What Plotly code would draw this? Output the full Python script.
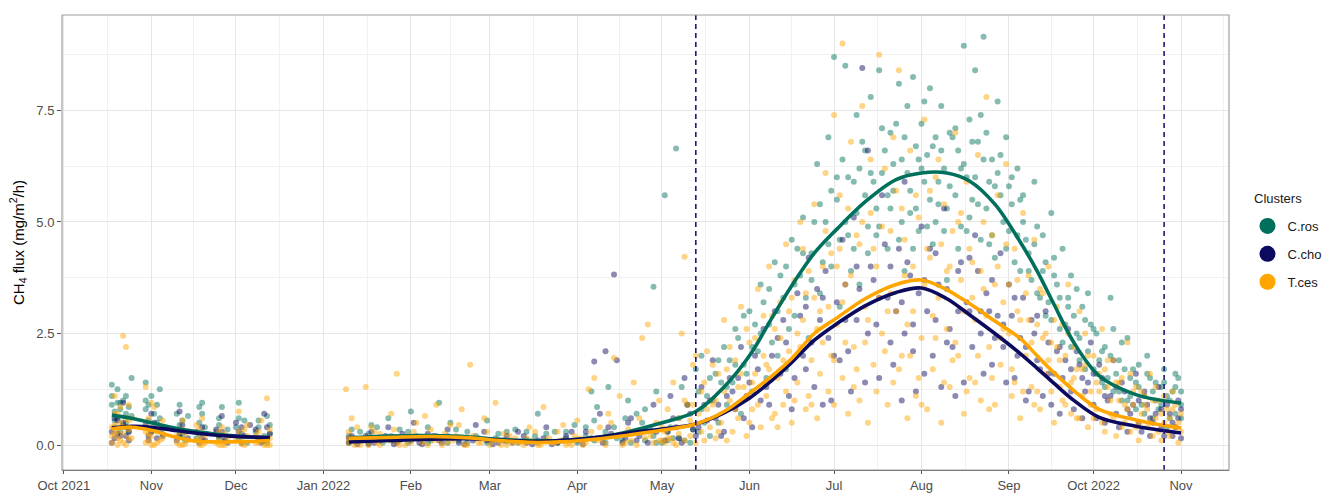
import pandas as pd
import plotly.graph_objects as go

start = pd.Timestamp("2021-10-01")

clusters = ["C.ros", "C.cho", "T.ces"]
colors = {"C.ros": "#00705C", "C.cho": "#0C0A5E", "T.ces": "#FFA500"}

# (day since 2021-10-01, CH4 flux)
cros_points = [
    (17,1.35),(17,0.9),(18,0.75),(18,0.55),(19,1.25),(19,0.6),(20,0.8),(21,0.45),(21,1.0),(22,0.7),(23,0.85),(23,0.3),
    (24,1.5),(29,1.4),(29,0.8),(30,0.55),(31,1.1),(32,0.35),(33,0.9),(34,0.6),(35,0.25),(40,0.7),(41,0.45),(42,0.2),
    (44,0.65),(47,0.15),(48,0.5),(49,0.95),(54,0.3),(55,0.6),(57,0.1),(61,0.4),(62,0.15),(64,0.55),(68,0.3),(70,0.1),
    (72,0.65),(73,0.45),
    (18,0.4),(19,0.95),(20,0.3),(22,1.1),(24,0.65),(30,0.9),(31,0.3),(33,0.5),(34,1.25),(41,0.9),(42,0.55),(43,0.1),
    (48,0.25),(49,0.7),(50,0.4),(55,0.15),(56,0.85),(58,0.35),(62,0.6),(63,0.25),(65,0.05),(69,0.55),(71,0.2),(72,0.05),
    (17,1.1),(20,0.95),(22,0.5),(29,1.0),(32,0.7),(41,0.25),(48,0.85),(55,0.45),(62,0.95),(69,0.4),(73,0.25),
    (101,0.2),(102,0.35),(104,0.1),(108,0.25),(109,0.45),(112,0.15),(115,0.6),(116,0.2),(119,0.1),(122,0.3),(123,0.75),
    (126,0.15),(129,0.4),(130,0.1),(133,0.95),(136,0.2),(137,0.5),(140,0.1),(143,0.3),(147,0.15),(150,0.55),(151,0.1),
    (154,0.25),(157,0.08),(160,0.35),(164,0.12),(167,0.2),(168,0.7),(171,0.1),(174,0.3),(178,0.15),(181,0.45),(185,0.2),
    (187,1.2),(188,0.55),(189,0.85),(192,0.3),(193,1.3),(196,0.15),(199,0.6),(200,1.0),(202,0.3),(205,0.5),(206,0.8),
    (209,3.55),(209,0.2),(210,1.2),
    (101,0.05),(103,0.15),(105,0.3),(108,0.05),(111,0.4),(113,0.05),(116,0.1),(119,0.35),(122,0.05),(125,0.2),(129,0.05),
    (132,0.2),(136,0.05),(139,0.35),(143,0.05),(146,0.2),(150,0.05),(153,0.15),(157,0.3),(161,0.05),(164,0.3),(168,0.05),
    (171,0.25),(175,0.05),(178,0.3),(182,0.05),(185,0.4),(188,0.1),(192,0.05),(195,0.4),(198,0.1),(201,0.05),(203,0.7),
    (206,0.1),(208,0.35),(210,0.05),
    (213,5.6),(214,0.1),(215,0.4),(217,6.65),(218,0.15),(219,1.3),(221,0.9),(222,0.05),(224,1.7),(225,0.3),(226,2.0),
    (228,1.1),(229,0.2),(231,1.6),(232,0.5),(234,2.2),(235,0.9),(237,1.4),(238,2.6),(240,0.7),(241,1.8),(243,3.0),
    (244,1.2),(246,2.1),(247,3.6),(249,1.5),(250,2.7),(252,4.1),(253,2.0),(255,3.3),(256,1.7),(258,4.6),(259,2.9),
    (261,3.8),(262,5.1),(264,2.4),(265,4.3),(267,6.3),(268,3.4),(270,5.0),(271,6.9),(272,4.0),(273,8.7),(274,5.5),
    (275,3.1),(276,6.4),(277,8.5),(278,4.7),(280,5.9),(281,7.4),(282,3.6),(284,6.6),(285,4.9),(286,7.8),(288,5.3),
    (289,8.4),(290,6.1),(292,4.4),(293,7.0),(294,5.7),(296,8.1),(297,6.4),(298,3.9),(299,7.6),(300,5.2),(301,8.25),
    (302,6.7),(303,4.8),(304,7.2),(305,5.9),(306,6.5),(307,8.0),(308,4.5),(309,6.9),(310,5.4),(311,7.6),(312,6.2),
    (313,3.7),(314,5.8),(316,7.1),(317,6.6),(318,4.9),(319,8.95),(320,6.0),(321,7.3),(322,5.5),(323,8.4),(324,6.8),
    (325,4.6),(326,9.15),(327,7.0),(328,5.9),(329,6.4),(330,4.2),(331,7.7),(332,5.6),(334,6.9),(335,4.8),(336,5.4),
    (338,6.2),(339,3.9),(340,5.0),(342,4.3),(344,5.9),(345,3.4),(347,4.7),(348,2.9),(350,5.2),(351,3.8),(353,2.6),
    (354,4.4),(356,3.1),(357,2.2),(359,3.5),(360,1.9),(362,2.8),(363,3.4),(365,1.7),(366,2.5),(368,1.4),(369,2.2),
    (371,3.3),(372,1.2),(374,1.9),(375,1.0),(377,2.4),(378,1.5),(380,0.8),(381,1.8),(383,1.1),(384,2.0),(386,0.6),
    (387,1.4),(389,0.9),(390,1.7),(391,0.4),(393,1.2),(394,0.7),(395,1.5),(396,0.9),
    (212,0.05),(214,0.3),(216,0.15),(218,0.6),(220,0.1),(223,0.35),(225,1.2),(227,0.5),(230,1.0),(233,1.4),(236,1.9),
    (239,2.4),(242,1.6),(245,2.7),(248,3.2),(251,2.3),(254,3.8),(257,2.6),(260,4.4),(263,3.3),(266,5.0),(269,4.1),
    (272,5.7),(275,4.6),(278,6.0),(279,3.9),(281,5.2),(283,6.8),(285,4.3),(287,5.9),(289,4.9),(291,6.6),(293,5.3),
    (295,7.2),(297,5.0),(299,6.1),(301,4.4),(303,6.4),(305,7.7),(307,5.5),(309,5.0),(311,6.6),(313,5.3),(315,6.9),
    (317,4.4),(319,6.3),(321,5.1),(323,6.0),(325,7.4),(327,5.3),(329,4.7),(331,6.1),(333,5.0),(335,5.8),(337,4.1),
    (339,5.5),(341,4.6),(343,3.7),(345,4.9),(347,3.9),(349,3.2),(351,4.2),(353,3.3),(355,2.7),(357,3.8),(359,2.5),
    (361,3.1),(363,2.1),(365,2.6),(367,1.9),(369,1.3),(371,2.0),(373,1.6),(375,2.3),(377,1.0),(379,1.7),(381,1.3),
    (383,0.7),(385,1.5),(387,1.0),(389,1.3),(391,1.1),(392,0.6),(394,1.3),(396,1.2),
    (226,0.8),(229,1.5),(232,1.9),(235,1.3),(238,1.8),(241,2.9),(244,2.2),(247,2.5),(250,3.5),(253,3.0),(256,4.0),
    (259,3.6),(262,4.3),(265,3.7),(268,5.4),(271,4.5),(274,6.0),(277,5.0),(280,4.4),(282,6.2),(284,5.6),(286,6.1),
    (288,4.7),(290,7.1),(292,5.6),(294,6.3),(296,4.6),(298,6.9),(300,5.7),(302,5.3),(304,6.2),(306,4.9),(308,6.7),
    (310,5.9),(312,4.8),(314,7.0),(316,5.6),(318,6.2),(320,4.8),(322,6.8),(324,5.4),(326,6.4),(328,4.5),(330,5.8),
    (332,6.5),(334,4.4),(336,6.0),(338,4.7),(340,5.6),(342,3.9),(344,4.5),(346,3.3),(348,4.1),(350,2.8),(352,3.6),
    (354,2.3),(356,3.3),(358,2.9),(360,2.4),(362,1.7),(364,2.7),(366,1.6),(368,2.1),(370,1.5),(372,2.6),(374,1.2),
    (376,1.7),(378,1.1),(380,1.4),(382,0.9),(384,1.6),(386,1.2),(388,0.8),(390,1.4),(392,1.0),(394,1.6),(396,0.6),
]

ccho_points = [
    (17,0.3),(18,0.15),(19,0.55),(20,0.2),(21,0.95),(22,0.4),(23,0.1),(29,0.45),(30,0.2),(31,0.7),(33,0.15),(34,0.35),
    (40,0.1),(41,0.75),(43,0.3),(48,0.05),(49,0.4),(55,0.2),(56,0.65),(57,0.1),(62,0.3),(63,0.05),(66,0.45),(69,0.15),
    (71,0.7),(73,0.25),
    (17,0.05),(19,0.25),(21,0.5),(23,0.3),(30,0.1),(32,0.5),(35,0.2),(42,0.45),(44,0.15),(47,0.3),(50,0.1),(54,0.35),
    (58,0.05),(61,0.5),(64,0.2),(68,0.35),(70,0.05),(72,0.4),
    (18,0.6),(22,0.2),(31,0.3),(41,0.2),(49,0.15),(56,0.3),(63,0.4),(71,0.1),
    (101,0.05),(102,0.2),(105,0.1),(108,0.02),(109,0.3),(112,0.1),(115,0.4),(118,0.05),(122,0.15),(124,0.5),(126,0.05),
    (129,0.25),(133,0.1),(136,0.35),(140,0.05),(143,0.15),(146,0.45),(150,0.1),(154,0.05),(157,0.2),(161,0.3),(164,0.05),
    (168,0.1),(171,0.4),(175,0.05),(178,0.2),(182,0.1),(185,0.3),(188,1.87),(190,0.7),(192,2.1),(193,0.4),(195,3.82),
    (196,1.9),(199,0.15),(201,0.6),(203,0.1),(206,0.35),(209,0.9),
    (101,0.15),(104,0.02),(107,0.2),(110,0.05),(114,0.2),(117,0.02),(120,0.25),(123,0.1),(127,0.02),(131,0.2),(134,0.05),
    (138,0.15),(142,0.02),(145,0.1),(149,0.3),(152,0.02),(156,0.1),(159,0.05),(163,0.2),(166,0.02),(170,0.15),(173,0.02),
    (177,0.1),(180,0.3),(184,0.02),(187,0.15),(191,0.05),(194,0.25),(198,0.05),(200,0.5),(204,0.2),(207,0.05),(210,0.3),
    (213,0.1),(215,1.1),(217,0.4),(219,0.05),(220,1.5),(222,0.7),(224,0.2),(226,1.3),(228,0.55),(230,1.9),(232,0.9),
    (234,0.3),(236,1.5),(238,0.8),(240,2.2),(242,1.1),(244,0.4),(246,1.7),(248,2.6),(250,0.9),(252,3.0),(254,1.6),
    (256,2.3),(258,0.8),(260,3.4),(262,2.0),(264,4.2),(266,1.3),(268,2.8),(270,3.9),(272,1.0),(274,3.2),(276,4.6),
    (278,2.1),(280,5.1),(282,3.5),(283,8.45),(284,1.4),(285,6.6),(286,4.0),(288,2.7),(290,5.6),(292,3.3),(294,1.8),
    (296,4.4),(298,5.9),(298,2.5),(300,3.8),(302,1.2),(304,4.9),(306,3.0),(308,2.0),(310,3.6),(312,5.3),(314,2.6),
    (316,1.1),(318,4.1),(320,3.2),(322,2.2),(324,3.9),(326,1.6),(328,3.0),(330,2.4),(332,4.3),(334,1.4),(336,2.9),
    (338,2.0),(340,3.3),(342,1.2),(344,2.5),(346,1.7),(348,3.0),(350,0.9),(352,2.1),(354,1.5),(356,2.6),(358,0.8),
    (360,1.8),(362,1.2),(364,2.3),(366,0.6),(368,1.5),(370,1.0),(372,1.9),(374,0.4),(376,1.2),(378,0.7),(380,1.6),
    (382,0.3),(384,0.9),(386,0.5),(388,1.3),(390,0.2),(392,0.7),(394,0.4),(395,1.0),(396,0.15),
    (214,0.3),(218,0.15),(221,0.9),(225,0.4),(229,1.0),(233,0.2),(237,1.2),(241,0.6),(245,2.0),(249,1.3),(253,2.4),
    (257,1.1),(261,2.9),(263,1.7),(267,3.5),(269,0.9),(271,2.4),(275,1.9),(277,3.6),(279,1.2),(281,2.8),(287,3.7),
    (289,1.5),(291,4.5),(293,2.3),(295,3.0),(297,1.0),(299,4.1),(301,2.7),(303,3.4),(305,1.6),(307,4.4),(309,2.8),
    (311,1.3),(313,3.5),(315,2.2),(317,3.9),(319,1.4),(321,3.0),(323,4.7),(325,2.5),(327,3.4),(329,1.8),(331,2.9),
    (333,2.2),(335,3.6),(337,1.5),(339,2.4),(341,1.0),(343,2.8),(345,1.9),(347,1.1),(349,2.3),(351,1.6),(353,0.7),
    (355,1.9),(357,1.2),(359,2.1),(361,0.6),(363,1.4),(365,0.9),(367,1.8),(369,0.5),(371,1.1),(373,0.7),(375,1.4),
    (377,0.3),(379,0.9),(381,0.5),(383,1.2),(385,0.2),(387,0.7),(389,0.4),(391,0.9),(393,0.2),(395,0.6),
    (216,0.6),(223,0.35),(227,0.9),(231,0.6),(235,1.1),(239,1.5),(243,1.4),(247,1.0),(251,2.0),(255,2.8),(259,1.5),
    (263,3.1),(265,2.3),(269,3.3),(273,2.0),(277,2.8),(281,4.0),(285,2.5),(289,3.3),(293,4.0),(297,3.2),(301,2.1),
    (305,3.7),(309,4.3),(313,2.3),(317,3.0),(321,4.2),(325,3.0),(329,3.7),(333,2.7),(337,3.3),(341,2.2),(345,2.9),
    (349,1.6),(353,2.2),(357,1.7),(361,1.5),(365,1.6),(369,1.1),(373,1.3),(377,0.8),(381,1.0),(385,0.6),(389,0.8),
    (393,0.5),(396,0.8),
]

tces_points = [
    (17,0.2),(17,0.05),(18,0.45),(18,1.1),(19,0.3),(19,0.7),(20,0.1),(20,0.5),(21,2.45),(21,0.25),(22,2.2),(22,0.6),
    (22,0.0),(23,0.35),(23,0.9),(24,0.15),(29,0.3),(29,1.3),(30,0.1),(30,0.6),(31,0.2),(32,0.85),(33,0.05),(34,0.4),
    (35,0.15),(40,0.05),(41,0.3),(42,0.55),(43,0.02),(47,0.1),(48,0.35),(49,0.0),(50,0.2),(54,0.05),(55,0.3),(56,0.0),
    (58,0.15),(61,0.1),(62,0.75),(63,0.02),(65,0.2),(68,0.05),(69,0.3),(71,0.0),(72,1.05),(73,0.15),
    (17,0.4),(18,0.25),(19,0.0),(20,0.85),(21,0.4),(23,0.15),(24,0.6),(29,0.05),(30,0.4),(31,0.95),(32,0.0),(33,0.3),
    (35,0.55),(40,0.2),(41,0.0),(42,0.35),(44,0.1),(47,0.45),(48,0.0),(49,0.6),(55,0.1),(56,0.4),(57,0.0),(62,0.3),
    (64,0.0),(65,0.45),(68,0.2),(70,0.55),(72,0.0),(73,0.35),
    (18,0.7),(19,0.15),(21,0.05),(23,0.55),(30,0.25),(31,0.0),(34,0.1),(42,0.0),(43,0.25),(48,0.15),(50,0.05),(55,0.0),
    (57,0.25),(63,0.15),(64,0.35),(69,0.05),(70,0.15),(73,0.0),
    (100,1.25),(101,0.05),(101,0.3),(102,0.6),(104,0.1),(105,0.0),(107,1.3),(108,0.15),(109,0.4),(111,0.05),(112,0.25),
    (115,0.1),(116,0.7),(118,1.6),(119,0.0),(122,0.2),(123,0.05),(125,0.5),(126,0.15),(129,0.0),(130,0.35),(132,0.9),
    (133,0.1),(136,0.05),(137,0.45),(139,0.2),(141,0.8),(143,0.0),(144,1.8),(146,0.15),(147,0.05),(150,0.3),(151,0.0),
    (153,0.95),(154,0.1),(157,0.0),(158,0.2),(161,0.05),(164,0.15),(165,0.4),(168,0.0),(170,0.85),(171,0.1),(174,0.05),
    (175,0.3),(178,0.0),(181,0.2),(182,0.55),(185,0.05),(186,1.25),(188,1.5),(189,0.1),(190,0.4),(192,0.0),(193,0.7),
    (195,1.95),(196,0.2),(197,1.1),(199,0.05),(200,0.35),(202,1.4),(203,0.0),(205,2.4),(206,0.15),(207,2.7),(209,0.05),
    (210,0.5),(211,1.0),
    (101,0.15),(103,0.0),(104,0.4),(106,0.1),(108,0.0),(110,0.3),(112,0.0),(114,0.15),(117,0.35),(118,0.05),(121,0.0),
    (124,0.3),(127,0.05),(128,0.65),(131,0.1),(134,0.0),(135,0.25),(138,0.1),(140,0.45),(142,0.0),(145,0.2),(148,0.05),
    (149,0.6),(152,0.1),(155,0.0),(156,0.25),(159,0.05),(160,0.15),(163,0.0),(166,0.1),(167,0.3),(169,0.0),(172,0.15),
    (173,0.05),(176,0.1),(177,0.45),(179,0.05),(180,0.0),(183,0.15),(184,0.0),(187,0.3),(191,0.1),(194,0.5),(198,0.0),
    (201,0.1),(204,0.6),(208,0.2),(211,0.1),
    (212,0.1),(213,0.05),(213,0.3),(214,0.15),(215,0.15),(216,1.4),(217,0.0),(218,0.6),(219,2.5),(220,4.22),(220,0.1),
    (221,0.9),(222,0.2),(223,1.8),(224,0.05),(225,0.7),(226,1.2),(227,0.1),(228,2.1),(229,0.4),(230,0.9),(231,0.15),
    (232,1.6),(233,0.5),(234,2.8),(235,0.1),(236,1.0),(237,0.3),(238,1.9),(239,0.6),(240,3.1),(241,1.3),(242,0.2),
    (243,2.3),(244,0.8),(245,1.6),(246,3.5),(247,0.4),(248,2.0),(249,1.1),(250,4.0),(251,0.6),(252,2.6),(253,1.5),
    (254,3.2),(255,0.9),(256,4.5),(257,2.1),(258,0.5),(259,3.7),(260,1.4),(261,5.0),(262,2.8),(263,0.8),(264,3.9),
    (265,1.9),(266,5.4),(267,0.6),(268,3.0),(269,2.3),(270,6.1),(271,1.2),(272,4.3),(273,7.4),(273,0.9),(274,2.7),
    (275,5.6),(276,1.5),(276,9.0),(277,3.6),(278,0.7),(279,6.8),(280,2.2),(281,4.7),(282,1.0),(283,7.6),(284,3.1),
    (285,0.5),(286,5.2),(287,1.8),(288,4.0),(289,8.75),(290,2.5),(291,6.2),(292,0.9),(293,3.4),(294,1.4),(295,5.7),
    (296,8.4),(297,2.0),(298,4.6),(299,0.6),(300,6.6),(301,3.0),(302,1.1),(303,5.1),(304,2.4),(305,7.3),(306,0.8),
    (307,4.2),(308,1.7),(309,6.0),(310,3.3),(311,0.5),(312,5.4),(313,2.6),(314,1.3),(315,4.8),(316,7.0),(317,2.0),
    (318,3.7),(319,0.7),(320,5.9),(321,1.5),(322,4.1),(323,2.8),(324,6.5),(325,1.0),(326,3.5),(327,7.8),(328,2.2),
    (329,4.7),(330,0.9),(331,5.6),(332,1.8),(333,3.2),(334,6.3),(335,2.5),(336,1.1),(337,4.4),(338,3.0),(339,0.6),
    (340,5.2),(341,2.0),(342,3.8),(343,1.3),(344,4.6),(345,2.7),(346,0.8),(347,3.4),(348,1.6),(349,4.0),(350,2.3),
    (351,0.5),(352,3.1),(353,1.9),(354,2.7),(355,0.9),(356,3.6),(357,1.4),(358,2.2),(359,0.6),(360,3.0),(361,1.7),
    (362,2.5),(363,0.4),(364,1.2),(365,2.0),(366,0.8),(367,1.6),(368,2.6),(369,0.3),(370,1.3),(371,0.7),(372,1.9),
    (373,0.2),(374,1.0),(375,1.5),(376,0.5),(377,2.3),(378,0.3),(379,0.9),(380,1.3),(381,0.1),(382,0.7),(383,1.1),
    (384,0.4),(385,1.6),(386,0.2),(387,0.6),(388,1.0),(389,0.1),(390,0.5),(391,0.8),(392,0.2),(393,1.2),(394,0.4),
    (395,0.05),(396,0.7),
    (212,0.4),(214,0.8),(216,0.05),(218,0.25),(220,1.0),(222,0.55),(224,2.0),(226,0.3),(228,0.8),(230,1.8),(232,0.3),
    (234,1.2),(236,2.2),(238,0.8),(240,1.6),(242,2.6),(244,1.4),(246,0.9),(248,2.9),(250,1.7),(252,0.7),(254,2.4),
    (256,1.2),(258,3.3),(260,2.5),(262,4.4),(264,1.1),(266,3.3),(268,1.6),(270,4.8),(272,2.0),(274,4.0),(276,3.2),
    (278,5.3),(280,1.3),(282,4.5),(284,2.3),(286,6.4),(288,1.2),(290,4.9),(292,3.0),(294,6.9),(296,1.7),(298,3.8),
    (300,2.0),(302,5.6),(304,0.9),(306,4.4),(308,2.9),(310,6.4),(312,1.4),(314,4.0),(316,2.3),(318,5.2),(320,1.2),
    (322,3.3),(324,2.0),(326,5.0),(328,0.8),(330,3.6),(332,2.4),(334,4.5),(336,1.7),(338,3.7),(340,1.2),(342,2.8),
    (344,0.9),(346,3.5),(348,2.5),(350,1.2),(352,2.2),(354,1.0),(356,2.5),(358,1.5),(360,0.6),(362,1.8),(364,0.9),
    (366,1.4),(368,0.5),(370,1.9),(372,0.6),(374,1.4),(376,0.9),(378,1.6),(380,0.4),(382,1.2),(384,0.8),(386,1.0),
    (388,0.3),(390,1.1),(392,0.6),(394,0.9),(396,0.3),
    (223,0.9),(227,1.4),(231,1.0),(235,1.7),(239,1.3),(243,0.5),(245,2.4),(249,1.8),(251,2.9),(253,0.4),(255,1.9),
    (257,3.0),(259,1.0),(261,2.2),(263,3.4),(265,0.9),(267,2.6),(269,4.0),(271,3.1),(273,1.9),(275,4.4),(277,2.3),
    (279,3.8),(281,1.7),(283,5.0),(285,2.8),(287,4.4),(289,3.3),(291,2.1),(293,4.8),(295,3.0),(297,5.3),(299,2.7),
    (301,4.0),(303,1.5),(305,3.6),(307,5.7),(309,2.4),(311,4.5),(313,3.9),(315,1.9),(317,5.0),(319,3.0),(321,4.4),
    (323,1.4),(325,3.9),(327,2.9),(329,1.5),(331,4.0),(333,2.6),(335,3.6),(337,1.4),(339,2.8),(341,3.4),(343,2.3),
    (345,1.2),(347,2.4),(349,1.9),(351,2.8),(353,1.3),(355,2.0),(357,0.7),(359,1.7),(361,1.1),(363,2.0),(365,0.6),
    (367,1.2),(369,1.7),(371,1.0),(373,1.4),(375,0.4),(377,0.8),(379,1.2),(381,0.5),(383,0.9),(385,0.5),(387,1.3),
    (389,0.7),(391,0.3),(393,0.8),(395,0.5),
]

# smoothed fits
fit_days_fall = [17, 24, 31, 38, 45, 52, 59, 66, 73]
fit_days_main = [101, 115, 130, 144, 151, 165, 176, 190, 200, 212, 224, 234, 243, 251, 258, 266, 274, 284,
                 295, 304, 313, 321, 330, 339, 345, 351, 358, 367, 380, 396]

cros_fit_fall = [0.67, 0.6, 0.5, 0.4, 0.32, 0.26, 0.21, 0.18, 0.16]
ccho_fit_fall = [0.38, 0.42, 0.4, 0.34, 0.28, 0.23, 0.2, 0.18, 0.17]
tces_fit_fall = [0.36, 0.4, 0.33, 0.2, 0.1, 0.07, 0.07, 0.08, 0.1]

cros_fit_main = [0.16, 0.2, 0.21, 0.18, 0.14, 0.1, 0.1, 0.18, 0.3, 0.5, 0.75, 1.3, 2.0, 2.85, 3.57, 4.3, 4.84, 5.45,
                 5.95, 6.1, 6.1, 5.92, 5.4, 4.55, 3.9, 3.15, 2.3, 1.55, 1.13, 0.94]
ccho_fit_main = [0.07, 0.1, 0.13, 0.14, 0.12, 0.08, 0.1, 0.18, 0.27, 0.36, 0.47, 0.72, 1.05, 1.45, 1.85, 2.35, 2.72, 3.12,
                 3.42, 3.52, 3.28, 2.92, 2.5, 2.05, 1.72, 1.38, 1.0, 0.62, 0.42, 0.27]
tces_fit_main = [0.15, 0.17, 0.19, 0.16, 0.12, 0.06, 0.07, 0.14, 0.22, 0.33, 0.47, 0.75, 1.16, 1.55, 1.94, 2.5, 2.85, 3.28,
                 3.6, 3.7, 3.48, 3.17, 2.78, 2.39, 2.0, 1.62, 1.22, 0.8, 0.56, 0.38]

month_ticks = ["2021-10-01", "2021-11-01", "2021-12-01", "2022-01-01", "2022-02-01", "2022-03-01", "2022-04-01",
               "2022-05-01", "2022-06-01", "2022-07-01", "2022-08-01", "2022-09-01", "2022-10-01", "2022-11-01"]
month_labels = ["Oct 2021", "Nov", "Dec", "Jan 2022", "Feb", "Mar", "Apr", "May", "Jun", "Jul", "Aug", "Sep",
                "Oct 2022", "Nov"]
y_ticks = [0.0, 2.5, 5.0, 7.5]
event_dates = ["2022-05-13", "2022-10-26"]


def to_date(d):
    return start + pd.Timedelta(days=d)


points = {"C.ros": cros_points, "C.cho": ccho_points, "T.ces": tces_points}
fits = {
    "C.ros": (cros_fit_fall, cros_fit_main),
    "C.cho": (ccho_fit_fall, ccho_fit_main),
    "T.ces": (tces_fit_fall, tces_fit_main),
}

fig = go.Figure()

for name in clusters:
    pts = points[name]
    fig.add_trace(go.Scatter(
        x=[to_date(d) for d, _ in pts], y=[v for _, v in pts], mode="markers",
        marker=dict(size=6, color=colors[name], opacity=0.48, line=dict(width=0)),
        showlegend=False, hoverinfo="skip"))

for name in clusters:
    fall, main = fits[name]
    xs = [to_date(d) for d in fit_days_fall] + [None] + [to_date(d) for d in fit_days_main]
    ys = list(fall) + [None] + list(main)
    fig.add_trace(go.Scatter(
        x=xs, y=ys, mode="lines", line=dict(color=colors[name], width=3.6, shape="spline", smoothing=1.0),
        connectgaps=False, showlegend=False, hoverinfo="skip"))

for name in clusters:
    fig.add_trace(go.Scatter(
        x=[None], y=[None], mode="markers", name=name, legendgroup=name,
        marker=dict(size=16, color=colors[name])))

for d in event_dates:
    fig.add_shape(type="line", xref="x", yref="paper", x0=d, x1=d, y0=0, y1=1,
                  line=dict(color="#1B1A78", width=1.6, dash="5px,4px"), layer="above")

# panel border
fig.add_shape(type="rect", xref="paper", yref="paper", x0=0, x1=1, y0=0, y1=1,
              line=dict(color="#A0A0A0", width=1.2), fillcolor="rgba(0,0,0,0)", layer="above")

mid_months = [pd.Timestamp(month_ticks[0]) - (pd.Timestamp(month_ticks[1]) - pd.Timestamp(month_ticks[0])) / 2]
for a, b in zip(month_ticks[:-1], month_ticks[1:]):
    ta, tb = pd.Timestamp(a), pd.Timestamp(b)
    mid_months.append(ta + (tb - ta) / 2)
mid_months.append(pd.Timestamp(month_ticks[-1]) + pd.Timedelta(days=15))

fig.update_xaxes(
    type="date", automargin=False,
    range=[pd.Timestamp("2021-09-30 08:00"), pd.Timestamp("2022-11-18")],
    tickmode="array", tickvals=month_ticks, ticktext=month_labels,
    showgrid=True, gridcolor="#E6E6E6", gridwidth=1,
    minor=dict(tickmode="array", tickvals=mid_months, showgrid=True, gridcolor="#F1F1F1", gridwidth=1, ticks=""),
    ticks="outside", ticklen=3, tickcolor="#555555", tickwidth=1,
    showline=True, linecolor="#555555", linewidth=1.3, mirror=False,
    zeroline=False, tickfont=dict(size=13, color="#4D4D4D"),
)
fig.update_yaxes(
    automargin=False,
    range=[-0.56, 9.64],
    tickmode="array", tickvals=y_ticks, ticktext=[f"{v:.1f}" for v in y_ticks],
    showgrid=True, gridcolor="#E6E6E6", gridwidth=1,
    minor=dict(dtick=1.25, tick0=0, showgrid=True, gridcolor="#F1F1F1", gridwidth=1, ticks=""),
    ticks="outside", ticklen=4, tickcolor="#555555", tickwidth=1,
    showline=False, zeroline=False, tickfont=dict(size=13, color="#4D4D4D"),
    title=dict(text="CH<sub>4</sub> flux (mg/m<sup>2</sup>/h)", font=dict(size=15, color="#000000"), standoff=8),
)

fig.add_annotation(text="Clusters", xref="paper", yref="paper", x=1.0197, y=0.597,
                   xanchor="left", yanchor="middle", showarrow=False,
                   font=dict(size=13, color="#1A1A1A"))

fig.update_layout(
    width=1325, height=493,
    margin=dict(l=62, r=96, t=15, b=23, autoexpand=False),
    plot_bgcolor="white", paper_bgcolor="white",
    font=dict(family="Liberation Sans, Arial, sans-serif", size=13, color="#4D4D4D"),
    legend=dict(
        xref="container", yref="container",
        x=0.9415, xanchor="left", y=0.572, yanchor="top",
        font=dict(size=13, color="#1A1A1A"), tracegroupgap=8, itemsizing="trace",
        bgcolor="rgba(0,0,0,0)",
    ),
)

fig.write_html("out.html")
